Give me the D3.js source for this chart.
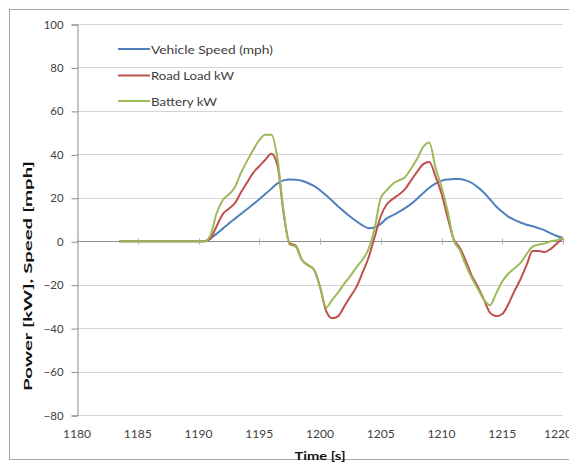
<!DOCTYPE html>
<html>
<head>
<meta charset="utf-8">
<script src="https://cdn.jsdelivr.net/npm/d3@7"></script>
<style>
  html, body { margin: 0; padding: 0; background: #fff; }
  svg { display: block; }
  text { font-family: Lato, "Open Sans", sans-serif; }
</style>
</head>
<body>
<svg id="chart" width="569" height="468"></svg>
<script>
// Drive-cycle segment: time stamps (s) sampled every 0.5 s
const time = [
  1183.5, 1184, 1184.5, 1185, 1185.5, 1186, 1186.5, 1187, 1187.5, 1188, 1188.5, 1189, 1189.5, 1190, 1190.5,
  1191, 1191.5, 1192, 1192.5, 1193, 1193.5, 1194, 1194.5, 1195, 1195.5, 1196, 1196.5, 1197, 1197.5, 1198,
  1198.5, 1199, 1199.5, 1200, 1200.5, 1201, 1201.5, 1202, 1202.5, 1203, 1203.5, 1204, 1204.5, 1205, 1205.5,
  1206, 1206.5, 1207, 1207.5, 1208, 1208.5, 1209, 1209.5, 1210, 1210.5, 1211, 1211.5, 1212, 1212.5, 1213,
  1213.5, 1214, 1214.5, 1215, 1215.5, 1216, 1216.5, 1217, 1217.5, 1218, 1218.5, 1219, 1219.5, 1220
];

// Vehicle speed (mph)
const vehicleSpeed = [
  0, 0, 0, 0, 0, 0, 0, 0, 0, 0, 0, 0, 0, 0, 0,
  1.2, 3.5, 5.8, 8.2, 10.4, 12.6, 14.8, 17.0, 19.3, 21.7, 24.2, 26.6, 28.0, 28.4, 28.3,
  27.8, 26.8, 25.5, 23.5, 21.2, 18.6, 16.0, 13.6, 11.3, 9.2, 7.3, 6.0, 6.3, 8.0, 10.5,
  12.0, 13.5, 15.2, 17.2, 19.6, 22.2, 24.6, 26.5, 27.8, 28.4, 28.7, 28.6, 28.0, 26.8, 24.8,
  22.3, 19.2, 16.0, 13.5, 11.3, 9.8, 8.6, 7.6, 6.9, 6.0, 5.0, 3.6, 2.4, 1.5
];

// Road load power (kW)
const roadLoad = [
  0, 0, 0, 0, 0, 0, 0, 0, 0, 0, 0, 0, 0, 0, 0,
  1.5, 7, 12.5, 15, 17.5, 22.5, 27, 31.5, 34.5, 37.5, 40.3, 35, 13, -1, -2,
  -8.5, -11, -13, -21, -32, -35.5, -34.5, -30, -25.5, -21, -14.5, -7.5, 2, 11.5, 17,
  19.5, 21.5, 24, 28, 32, 35.5, 36.5, 30, 22, 11, 1, -3, -9, -16, -21,
  -27, -33, -34.5, -33.5, -29, -23, -17.5, -11, -4.5, -4.5, -5, -3.5, -1, 1.5
];

// Battery power (kW)
const battery = [
  0, 0, 0, 0, 0, 0, 0, 0, 0, 0, 0, 0, 0, 0, 0,
  3, 13, 19, 21.5, 25, 31.5, 37, 42, 46.5, 49, 49, 38, 14, -1.5, -2.5,
  -8.5, -11, -13, -21, -30.5, -27, -23.5, -19.5, -16, -12, -8.5, -3.5, 6, 20, 23.5,
  26.5, 28, 29.5, 33.5, 38, 43.5, 45.5, 34, 25, 14, 0.5, -4, -11, -17, -22,
  -27, -29.5, -24, -18.5, -15, -12.5, -10, -6, -2.5, -1.5, -1, 0, 0.5, 1.5
];

const xTicks = [1180, 1185, 1190, 1195, 1200, 1205, 1210, 1215, 1220];
const yTicks = [-80, -60, -40, -20, 0, 20, 40, 60, 80, 100];

const seriesNames = ["Vehicle Speed (mph)", "Road Load kW", "Battery kW"];
const seriesColors = ["#4F81BD", "#C0504D", "#9BBB59"];
const seriesValues = [vehicleSpeed, roadLoad, battery];

const svg = d3.select("#chart");

// outer chart frame
svg.append("rect")
  .attr("x", 9.5).attr("y", 9.5)
  .attr("width", 600).attr("height", 450)
  .attr("fill", "#fff").attr("stroke", "#a6a6a6");

const x = d3.scaleLinear().domain([1180, 1220]).range([77, 563]);
const y = d3.scaleLinear().domain([-80, 100]).range([415, 24]);

// horizontal gridlines
svg.append("g")
  .selectAll("line")
  .data(yTicks.filter(v => v !== 0))
  .join("line")
  .attr("x1", x(1180)).attr("x2", x(1220))
  .attr("y1", d => Math.round(y(d)) + 0.5).attr("y2", d => Math.round(y(d)) + 0.5)
  .attr("stroke", "#d4d4d4").attr("stroke-width", 1);

// vertical axis with outward ticks
const yAxis = d3.axisLeft(y).tickValues(yTicks).tickSize(6).tickPadding(8);
const gy = svg.append("g")
  .attr("transform", `translate(${x(1180) + 0.5},0.5)`)
  .call(yAxis);
gy.select(".domain").attr("stroke", "#8c8c8c");
gy.selectAll(".tick line").attr("stroke", "#8c8c8c");
gy.selectAll(".tick text")
  .attr("fill", "#404040")
  .style("font-size", "11px")
  .attr("textLength", d => String(d).length * 6.6)
  .attr("lengthAdjust", "spacingAndGlyphs");

// horizontal axis line crossing at zero, labels at the bottom
const zeroY = Math.round(y(0)) + 0.5;
svg.append("line")
  .attr("x1", x(1180)).attr("x2", x(1220))
  .attr("y1", zeroY).attr("y2", zeroY)
  .attr("stroke", "#8c8c8c");
svg.append("g")
  .selectAll("line")
  .data(xTicks)
  .join("line")
  .attr("x1", d => Math.round(x(d)) + 0.5).attr("x2", d => Math.round(x(d)) + 0.5)
  .attr("y1", zeroY - 3).attr("y2", zeroY + 3)
  .attr("stroke", "#b0b0b0");

svg.append("g")
  .selectAll("text")
  .data(xTicks)
  .join("text")
  .attr("x", d => Math.min(x(d), 558))
  .attr("y", 433)
  .attr("text-anchor", "middle")
  .attr("dominant-baseline", "central")
  .attr("fill", "#404040")
  .style("font-size", "11px")
  .attr("textLength", 28)
  .attr("lengthAdjust", "spacingAndGlyphs")
  .text(d => d);

// axis titles
svg.append("text")
  .attr("x", 320).attr("y", 455)
  .attr("text-anchor", "middle")
  .attr("dominant-baseline", "central")
  .style("font-size", "12px").style("font-weight", "bold")
  .attr("fill", "#111")
  .attr("textLength", 51)
  .attr("lengthAdjust", "spacingAndGlyphs")
  .text("Time [s]");

svg.append("text")
  .attr("transform", "translate(27,276) rotate(-90)")
  .attr("text-anchor", "middle")
  .attr("dominant-baseline", "central")
  .style("font-size", "11px").style("font-weight", "bold")
  .attr("fill", "#111")
  .attr("textLength", 230)
  .attr("lengthAdjust", "spacingAndGlyphs")
  .text("Power [kW],  Speed [mph]");

// data lines
const line = d3.line()
  .x((d, i) => x(time[i]))
  .y(d => y(d))
  .curve(d3.curveMonotoneX);

svg.append("g")
  .selectAll("path")
  .data(seriesValues)
  .join("path")
  .attr("d", d => line(d))
  .attr("fill", "none")
  .attr("stroke", (d, i) => seriesColors[i])
  .attr("stroke-width", 2)
  .attr("stroke-linejoin", "round");

// legend
const legendY = [49, 75.5, 101];
const legendW = [122, 83, 66];
const lg = svg.append("g");
seriesNames.forEach((name, i) => {
  lg.append("line")
    .attr("x1", 118).attr("x2", 150)
    .attr("y1", legendY[i]).attr("y2", legendY[i])
    .attr("stroke", seriesColors[i]).attr("stroke-width", 2);
  lg.append("text")
    .attr("x", 151).attr("y", legendY[i])
    .attr("dominant-baseline", "central")
    .attr("fill", "#404040")
    .style("font-size", "12px")
    .attr("textLength", legendW[i])
    .attr("lengthAdjust", "spacingAndGlyphs")
    .text(name);
});
</script>
</body>
</html>
